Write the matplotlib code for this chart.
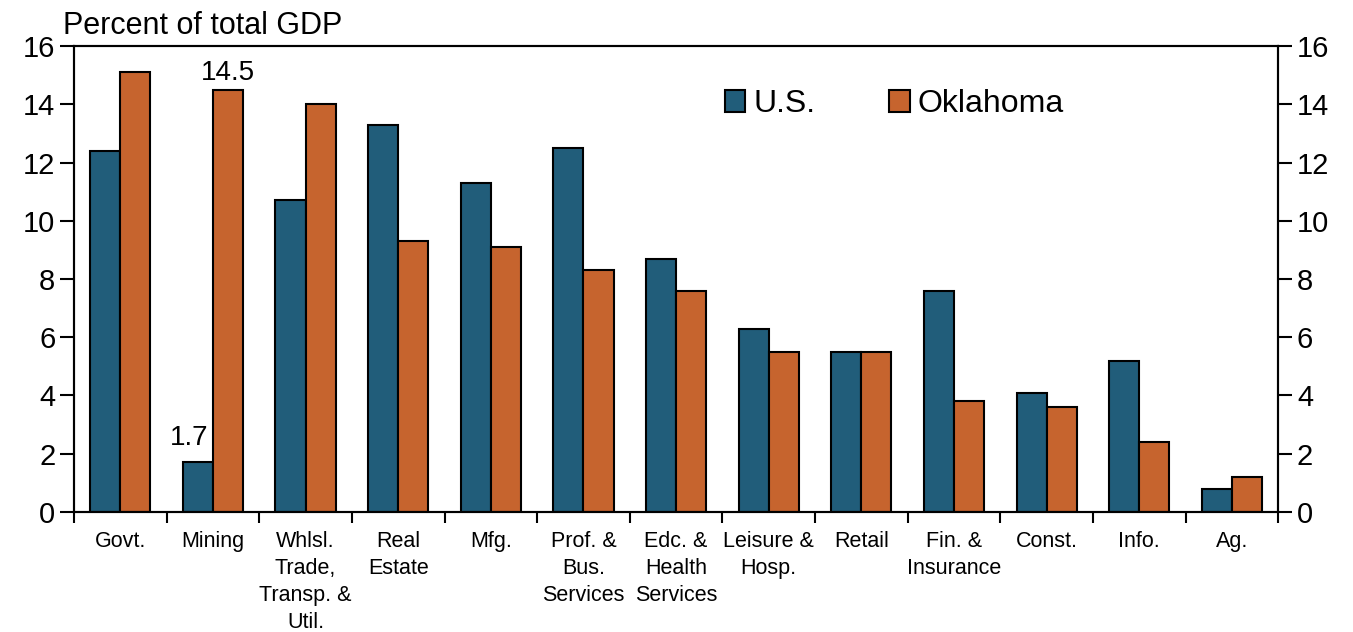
import numpy as np
import matplotlib.pyplot as plt

plt.rcParams['font.family'] = ['Liberation Sans', 'DejaVu Sans']

categories = ["Govt.", "Mining", "Whlsl.\nTrade,\nTransp. &\nUtil.", "Real\nEstate",
              "Mfg.", "Prof. &\nBus.\nServices", "Edc. &\nHealth\nServices",
              "Leisure &\nHosp.", "Retail", "Fin. &\nInsurance", "Const.", "Info.", "Ag."]
us = [12.4, 1.7, 10.7, 13.3, 11.3, 12.5, 8.7, 6.3, 5.5, 7.6, 4.1, 5.2, 0.8]
oklahoma = [15.1, 14.5, 14.0, 9.3, 9.1, 8.3, 7.6, 5.5, 5.5, 3.8, 3.6, 2.4, 1.2]
yticks = [0, 2, 4, 6, 8, 10, 12, 14, 16]

us_color = "#215d7a"
ok_color = "#c6642e"

fig = plt.figure(figsize=(13.53, 6.32), dpi=100)
ax = fig.add_axes([0.0547, 0.19, 0.89, 0.737])

x = np.arange(len(categories))
w = 0.325
ax.bar(x - w / 2, us, w, color=us_color, edgecolor="black", linewidth=1.5, label="U.S.")
ax.bar(x + w / 2, oklahoma, w, color=ok_color, edgecolor="black", linewidth=1.5, label="Oklahoma")

ax.set_xlim(-0.5, len(categories) - 0.5)
ax.set_ylim(0, 16)
ax.set_yticks(yticks)
ax.tick_params(axis='y', labelsize=21, length=10, width=1.5, direction='out')
ax.set_xticks(x)
ax.set_xticklabels(categories, fontsize=15.5, linespacing=1.37)
ax.tick_params(axis='x', length=0, pad=14)
ax.set_xticks(np.arange(-0.5, len(categories), 1.0), minor=True)
ax.tick_params(axis='x', which='minor', length=8, width=1.5, direction='out')

for s in ax.spines.values():
    s.set_linewidth(1.5)

ax2 = ax.twinx()
ax2.set_ylim(0, 16)
ax2.set_yticks(yticks)
ax2.tick_params(axis='y', labelsize=21, length=10, width=1.5, direction='out')
for s in ax2.spines.values():
    s.set_linewidth(1.5)

# value labels on Mining
ax.text(x[1] - w / 2 - 0.09, us[1] + 0.4, "1.7", ha='center', va='bottom', fontsize=20)
ax.text(x[1] + w / 2, oklahoma[1] + 0.12, "14.5", ha='center', va='bottom', fontsize=20)

ax.text(-0.009, 1.012, "Percent of total GDP", transform=ax.transAxes,
        ha='left', va='bottom', fontsize=22)

ax.legend(loc='center', bbox_to_anchor=(0.661, 0.835), bbox_transform=fig.transFigure,
          ncol=2, frameon=False, fontsize=23, handlelength=0.65, handleheight=0.65,
          handletextpad=0.25, columnspacing=2.3)

fig.savefig("out.png", dpi=100)
